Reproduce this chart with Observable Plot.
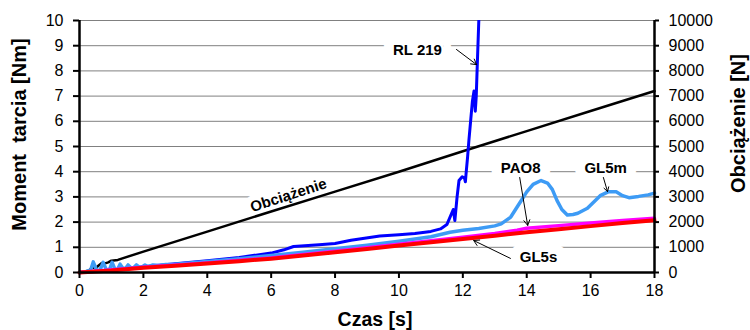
<!DOCTYPE html>
<html>
<head>
<meta charset="utf-8">
<script src="https://cdn.jsdelivr.net/npm/d3@7"></script>
<script src="https://cdn.jsdelivr.net/npm/@observablehq/plot@0.6"></script>
<style>
  html, body { margin: 0; padding: 0; background: white; }
  svg text { white-space: pre; }
</style>
</head>
<body>
<div id="chart"></div>
<script>
// ---- Data ----
const xTicks = [0, 2, 4, 6, 8, 10, 12, 14, 16, 18];
const yTicks = [0, 1, 2, 3, 4, 5, 6, 7, 8, 9, 10];
const loadTickLabels = ["0", "1000", "2000", "3000", "4000", "5000", "6000", "7000", "8000", "9000", "10000"];

// Obciążenie [N] (right axis)
const loadT = [0, 0.15, 0.3, 0.4, 0.5, 0.6, 0.7, 0.8, 0.9, 1.0, 1.2, 2, 4, 6, 8, 10, 12, 14, 16, 18];
const loadN = [0, 30, 80, 200, 170, 280, 380, 360, 400, 470, 500, 830, 1620, 2420, 3210, 4000, 4810, 5610, 6410, 7200];

// RL 219 [Nm]
const rlT = [0, 1, 2, 3, 4, 5, 6, 6.4, 6.7, 7.5, 8, 8.5, 9.4, 10, 10.5, 11, 11.3, 11.5, 11.6, 11.7, 11.75, 11.82, 11.88, 11.98, 12.05, 12.08, 12.1, 12.15, 12.19, 12.25, 12.3, 12.35, 12.39, 12.42, 12.45, 12.5];
const rlV = [0, 0.1, 0.23, 0.35, 0.47, 0.6, 0.77, 0.9, 1.03, 1.1, 1.15, 1.28, 1.45, 1.5, 1.55, 1.63, 1.73, 1.9, 2.2, 2.5, 2.06, 3.0, 3.65, 3.8, 3.75, 3.6, 3.9, 4.6, 5.24, 6.1, 6.8, 7.2, 6.4, 7.0, 8.15, 10];

// GL5m [Nm]
const gl5mT = [0, 0.2, 0.35, 0.43, 0.55, 0.65, 0.74, 0.85, 0.95, 1.02, 1.12, 1.2, 1.27, 1.37, 1.45, 1.52, 1.62, 1.7, 1.78, 1.88, 1.96, 2.05, 2.15, 2.3, 2.5, 2.7, 3, 4, 5, 6, 7, 8, 9, 10, 11, 11.6, 12, 12.5, 13, 13.2, 13.5, 13.8, 14, 14.2, 14.45, 14.65, 14.8, 14.95, 15.1, 15.27, 15.45, 15.6, 15.9, 16.1, 16.3, 16.55, 16.8, 17.0, 17.2, 17.5, 17.8, 18];
const gl5mV = [0, 0.03, 0.1, 0.42, 0.05, 0.12, 0.4, 0.08, 0.15, 0.4, 0.1, 0.15, 0.33, 0.15, 0.18, 0.3, 0.18, 0.2, 0.3, 0.2, 0.22, 0.3, 0.23, 0.3, 0.28, 0.32, 0.33, 0.44, 0.55, 0.67, 0.8, 0.94, 1.08, 1.24, 1.42, 1.6, 1.68, 1.75, 1.85, 1.93, 2.2, 2.8, 3.2, 3.5, 3.65, 3.55, 3.3, 2.85, 2.5, 2.28, 2.3, 2.35, 2.55, 2.8, 3.05, 3.2, 3.2, 3.05, 2.97, 3.02, 3.08, 3.15];

// PAO8 [Nm]
const pao8T = [0, 2, 4, 6, 8, 10, 12, 13, 13.7, 14, 15, 16, 17, 18];
const pao8V = [0, 0.21, 0.38, 0.58, 0.84, 1.12, 1.4, 1.55, 1.68, 1.76, 1.86, 1.96, 2.06, 2.15];

// GL5s [Nm]
const gl5sT = [0, 1, 2, 3, 4, 5, 6, 7, 8, 9, 10, 11, 12, 13, 14, 15, 16, 17, 18];
const gl5sV = [0, 0.08, 0.19, 0.27, 0.36, 0.45, 0.55, 0.67, 0.8, 0.93, 1.07, 1.2, 1.33, 1.46, 1.6, 1.72, 1.84, 1.96, 2.07];

// Annotations (data coordinates)
const annText = ["RL 219", "PAO8", "GL5m", "GL5s"];
const annT = [10.58, 13.81, 16.47, 14.37];
const annV = [8.81, 4.15, 4.15, 0.6];
const loadLabel = "Obciążenie";
const loadLabelT = 6.54, loadLabelV = 3.06;

const arrowT1 = [11.80, 13.78, 16.40, 13.49];
const arrowV1 = [8.85, 3.77, 3.77, 0.56];
const arrowT2 = [12.43, 14.03, 16.53, 12.34];
const arrowV2 = [8.25, 1.87, 3.21, 1.27];

// ---- Build tables ----
const toRows = (T, V) => T.map((t, i) => ({t, v: V[i]}));
const loadRows = loadT.map((t, i) => ({t, n: loadN[i]}));
const rlRows = toRows(rlT, rlV);
const gl5mRows = toRows(gl5mT, gl5mV);
const pao8Rows = toRows(pao8T, pao8V);
const gl5sRows = toRows(gl5sT, gl5sV);
const annRows = annText.map((s, i) => ({s, t: annT[i], v: annV[i]}));
const arrowRows = arrowT1.map((t, i) => ({t1: t, v1: arrowV1[i], t2: arrowT2[i], v2: arrowV2[i]}));

const font = "'Liberation Sans', Arial, sans-serif";

const chart = Plot.plot({
  width: 750,
  height: 330,
  marginLeft: 79,
  marginRight: 96,
  marginTop: 20,
  marginBottom: 58,
  x: {domain: [0, 18]},
  y: {domain: [0, 10]},
  style: {fontFamily: font, fontSize: "16px", color: "black", background: "white", overflow: "visible"},
  marks: [
    Plot.gridY(yTicks.slice(1), {stroke: "#808080", strokeOpacity: 1, strokeWidth: 1}),
    // annotation labels with white boxes (halo)
    Plot.text(annRows, {x: "t", y: "v", text: "s", fontWeight: "bold", fontSize: 15, fill: "black",
      stroke: "white", strokeWidth: 20, strokeLinejoin: "miter", lineAnchor: "middle"}),
    Plot.text([loadLabel], {x: () => loadLabelT, y: () => loadLabelV, text: d => d, rotate: -18,
      fontWeight: "bold", fontSize: 15, fill: "black", stroke: "white", strokeWidth: 12, lineAnchor: "middle"}),
    // series
    Plot.line(loadRows, {x: "t", y: d => d.n / 1000, stroke: "black", strokeWidth: 2.5}),
    Plot.line(rlRows, {x: "t", y: "v", stroke: "#0000ff", strokeWidth: 3, clip: true}),
    Plot.line(gl5mRows, {x: "t", y: "v", stroke: "#3d9bf5", strokeWidth: 3.5}),
    Plot.line(pao8Rows, {x: "t", y: "v", stroke: "#ff00ff", strokeWidth: 3.5}),
    Plot.line(gl5sRows, {x: "t", y: "v", stroke: "#ff0000", strokeWidth: 4}),
    // arrows
    Plot.arrow(arrowRows, {x1: "t1", y1: "v1", x2: "t2", y2: "v2", stroke: "black", strokeWidth: 1, headLength: 9}),
    // axes
    Plot.axisX({ticks: xTicks, tickSize: 6, tickPadding: 6, strokeWidth: 2, fontSize: 16, label: null}),
    Plot.axisY({ticks: yTicks, tickSize: 6, tickPadding: 10, strokeWidth: 2, fontSize: 16, label: null}),
    Plot.axisY({ticks: yTicks, anchor: "right", tickSize: 4, tickPadding: 10, strokeWidth: 2, fontSize: 16, label: null,
      tickFormat: d => loadTickLabels[yTicks.indexOf(d)]}),
    Plot.ruleY([0], {stroke: "black", strokeWidth: 2.5}),
    Plot.ruleX([0], {stroke: "black", strokeWidth: 2.5}),
    Plot.ruleX([18], {stroke: "black", strokeWidth: 2.5}),
    // axis titles
    Plot.text(["Moment\u00a0 tarcia [Nm]"], {frameAnchor: "left", dx: -60, dy: -12, rotate: -90, text: d => d,
      textAnchor: "middle", fontWeight: "bold", fontSize: 20, lineAnchor: "middle"}),
    Plot.text(["Obciążenie [N]"], {frameAnchor: "right", dx: 84, dy: -23, rotate: -90, text: d => d,
      textAnchor: "middle", fontWeight: "bold", fontSize: 20, lineAnchor: "middle"}),
    Plot.text(["Czas [s]"], {frameAnchor: "bottom", dx: 8, dy: 47, text: d => d,
      textAnchor: "middle", fontWeight: "bold", fontSize: 19.5, lineAnchor: "middle"})
  ]
});
document.getElementById("chart").appendChild(chart);
</script>
</body>
</html>
